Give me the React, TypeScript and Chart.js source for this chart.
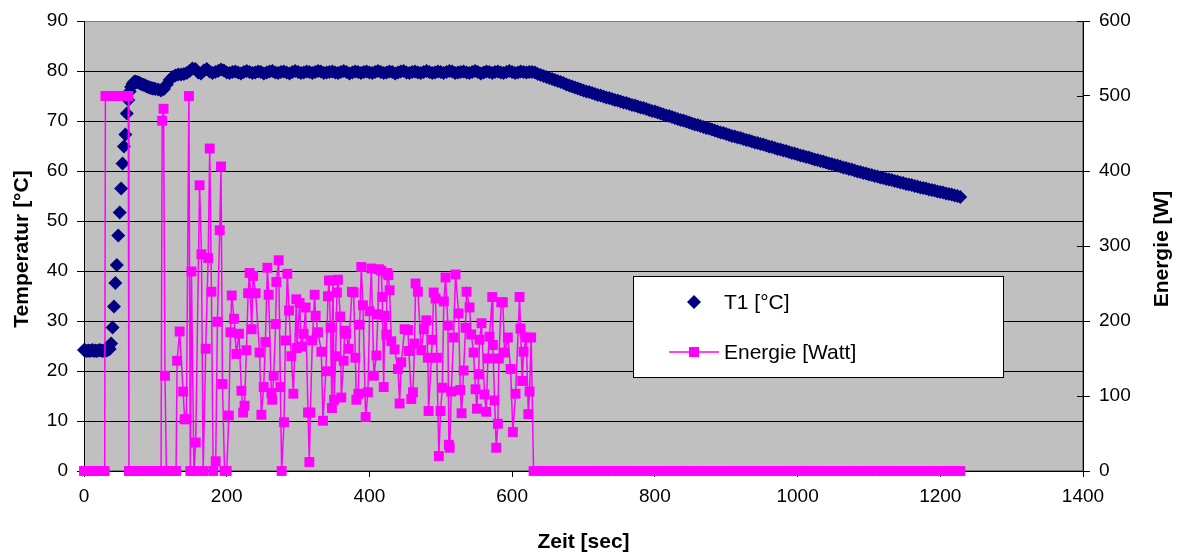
import React, { useEffect, useRef } from "react";
import { Chart, registerables } from "chart.js";

Chart.register(...registerables);

const FONT = '"Liberation Sans", Arial, Helvetica, sans-serif';
const NAVY = "#000080";
const MAGENTA = "#FF00FF";

// ---------- axis ticks ----------
const xTickValues = [0, 200, 400, 600, 800, 1000, 1200, 1400];
const xTickLabels = ["0", "200", "400", "600", "800", "1000", "1200", "1400"];
const tempTickValues = [0, 10, 20, 30, 40, 50, 60, 70, 80, 90];
const tempTickLabels = ["0", "10", "20", "30", "40", "50", "60", "70", "80", "90"];
const energyTickValues = [0, 100, 200, 300, 400, 500, 600];
const energyTickLabels = ["0", "100", "200", "300", "400", "500", "600"];

// ---------- T1 [°C] ----------
// samples every 2 s from t = 0 s to t = 100 s
const t1EarlyStart = 0;
const t1EarlyStep = 2;
const t1Early = [
  24.2, 24.1, 24.0, 24.1, 24.0, 24.1, 24.2, 24.0, 24.1, 24.0,
  24.1, 24.2, 24.1, 24.0, 24.1, 24.2, 24.1, 24.3, 24.4,
  25.5, 28.7, 32.9, 37.6, 41.2, 47.1, 51.7, 56.5, 61.5, 64.9,
  67.3, 71.5, 74.2, 75.9, 76.8, 77.4, 77.8, 77.9, 77.8, 77.7,
  77.6, 77.4, 77.3, 77.2, 77.1, 76.9, 76.8, 76.7, 76.6, 76.5,
  76.5, 76.4,
];
// samples every 4 s from t = 104 s
const t1LateStart = 104;
const t1LateStep = 4;
const t1Settle = [
  76.3, 76.1, 76.4, 77.3, 78.2, 78.8, 79.1, 79.3, 79.3, 79.4,
  79.6, 80.0, 80.5, 80.4, 79.7, 79.5, 80.1, 80.4, 79.9, 79.6,
  79.8, 80.0, 80.3, 80.1, 79.7,
];
const t1Plateau = [
  79.6, 79.8, 79.9, 79.7, 79.5, 79.8, 80.0, 79.8, 79.6, 79.7,
  79.9, 79.8, 79.5, 79.7, 79.9, 80.0, 79.7, 79.6, 79.8, 79.9,
  79.7, 79.5, 79.8, 80.0, 79.8, 79.6, 79.7, 79.9, 79.8, 79.6,
  79.8, 80.0, 79.9, 79.6, 79.7, 79.8, 79.9, 79.7, 79.6, 79.8,
  80.0, 79.8, 79.5, 79.7, 79.9, 79.8, 79.6, 79.8, 79.9, 79.7,
  79.6, 79.8, 80.0, 79.8, 79.6, 79.7, 79.9, 79.8, 79.5, 79.7,
  79.9, 80.0, 79.7, 79.6, 79.8, 79.9, 79.7, 79.6, 79.8, 80.0,
  79.8, 79.6, 79.7, 79.9, 79.8, 79.6, 79.8, 80.0, 79.9, 79.6,
  79.7, 79.8, 79.9, 79.7, 79.6, 79.8, 80.0, 79.8, 79.5, 79.7,
  79.9, 79.8, 79.6, 79.8, 79.9, 79.7, 79.6, 79.8, 80.0, 79.8,
  79.6, 79.7, 79.9, 79.8, 79.7, 79.8, 79.8, 79.7,
];
const t1Cooling = [
  79.4, 79.2, 79.0, 78.8, 78.6, 78.4, 78.2, 78.0, 77.8, 77.6,
  77.3, 77.1, 76.9, 76.7, 76.5, 76.3, 76.1, 75.9, 75.8, 75.6,
  75.4, 75.2, 75.1, 74.9, 74.7, 74.6, 74.4, 74.2, 74.1, 73.9,
  73.7, 73.6, 73.4, 73.2, 73.1, 72.9, 72.7, 72.6, 72.4, 72.2,
  72.0, 71.9, 71.7, 71.5, 71.3, 71.1, 71.0, 70.8, 70.6, 70.4,
  70.2, 70.1, 69.9, 69.7, 69.5, 69.3, 69.2, 69.0, 68.8, 68.6,
  68.5, 68.3, 68.1, 67.9, 67.7, 67.6, 67.4, 67.2, 67.0, 66.9,
  66.7, 66.6, 66.4, 66.2, 66.1, 65.9, 65.7, 65.6, 65.4, 65.3,
  65.1, 64.9, 64.8, 64.6, 64.4, 64.3, 64.1, 64.0, 63.8, 63.6,
  63.5, 63.3, 63.1, 63.0, 62.8, 62.7, 62.5, 62.3, 62.2, 62.0,
  61.9, 61.7, 61.5, 61.4, 61.2, 61.1, 60.9, 60.7, 60.6, 60.4,
  60.3, 60.1, 59.9, 59.8, 59.6, 59.5, 59.3, 59.2, 59.0, 58.9,
  58.7, 58.6, 58.4, 58.3, 58.2, 58.0, 57.9, 57.7, 57.6, 57.4,
  57.3, 57.2, 57.0, 56.9, 56.7, 56.6, 56.5, 56.3, 56.2, 56.1,
  55.9, 55.8, 55.7, 55.5, 55.4, 55.3, 55.1, 55.0, 54.8,
];

// ---------- Energie [Watt] ----------
const energyTime = [
  0, 3, 6, 9, 12, 15, 18, 21, 24, 27, 29,
  30, 33, 36, 39, 42, 45, 48, 51, 54, 57, 60, 62,
  63, 66, 69, 72, 75, 78, 81, 84, 87, 90, 93, 96, 99, 102, 105, 108,
  109.5, 111.5, 113.5, 115.5, 118, 121, 124, 127, 129,
  130.5, 134, 139, 141, 143.5, 147, 149, 150.6, 154, 156.6,
  162, 164.6, 167, 170.6, 174, 176.2, 178.6, 181, 184.6, 187, 190.2, 192, 194, 197, 200,
  203, 205.2, 207, 210.2, 213.6, 217.2, 220.6, 223, 225, 227.6, 230, 232, 235, 237, 240.6,
  246, 248.6, 251.8, 254.2, 257, 258.8, 262.6, 263.8, 265.8, 268.6, 269.6, 272.8, 275.2, 277,
  280.3, 282.2, 285, 287.3, 290.6, 293.4, 297.6, 298.5, 302.2, 304.6, 307.8, 310.6, 313.9, 315.8, 317.2,
  320, 323.2, 324.6, 327.9, 332.6, 334.9, 339, 341.9, 343.3, 345.5, 347.5, 349, 350.5, 352.7, 354.5, 355.9, 359.2, 360.6,
  363.9, 365.3, 367.6, 370.9, 375.5, 377.9, 380.3, 381.7, 384.5, 386.3, 388.6, 390.9, 394.7, 397.9,
  400.3, 402.7, 406.3, 409.7, 411.9, 413.3, 416.6, 418, 420, 421.5, 423.7, 425, 426.5, 428.3, 430.7, 435.3,
  440, 442.3, 444.7, 449.3, 454, 455.3, 458.7, 461, 463.3, 464.7, 467.9, 472.7, 476.3, 479.7, 481.9, 482.9,
  488.1, 490, 492.7, 494.5, 497.3, 499.7, 502.1, 504.3, 506.7, 510, 511.3, 512.5, 514.7, 517.9, 520.7, 525, 527.3, 529.1,
  532, 534.7, 536.1, 540.3, 542.7, 545.9, 548.7, 550.6, 553, 554.3, 557.1, 561.3, 563.7, 566, 568.3, 572.1, 573, 575.4, 577.7,
  580, 581.4, 584.7, 587, 589.4, 594, 597.8, 601, 604.8, 610.4, 611.8, 614.1, 616, 619.7, 622.7, 624.4, 626.7, 630,
  640, 650, 660, 670, 680, 690, 700, 710, 720, 730, 740, 750, 760, 770, 780, 790, 800, 810, 820, 830,
  840, 850, 860, 870, 880, 890, 900, 910, 920, 930, 940, 950, 960, 970, 980, 990, 1000, 1010, 1020, 1030,
  1040, 1050, 1060, 1070, 1080, 1090, 1100, 1110, 1120, 1130, 1140, 1150, 1160, 1170, 1180, 1190, 1200, 1210, 1220, 1228,
];
const energyWatt = [
  0, 0, 0, 0, 0, 0, 0, 0, 0, 0, 0,
  500, 500, 500, 500, 500, 500, 500, 500, 500, 500, 500, 500,
  0, 0, 0, 0, 0, 0, 0, 0, 0, 0, 0, 0, 0, 0, 0, 0,
  467, 483, 127, 0, 0, 0, 0, 0, 0,
  147, 186, 106, 69, 69, 500, 0, 266, 0, 38,
  381, 289, 0, 163, 284, 430, 239, 0, 13, 199, 321, 406, 116, 0, 0,
  74, 185, 234, 203, 156, 183, 107, 78, 87, 161, 237, 264, 189, 260, 237,
  158, 75, 112, 172, 271, 235, 104, 95, 127, 196, 252, 281, 112, 0,
  65, 174, 263, 214, 153, 103, 229, 164, 224, 166, 183, 218, 78, 12, 78,
  174, 235, 207, 185, 159, 67, 133, 233, 254, 191, 84, 254, 95, 153, 238, 255, 206, 98,
  147, 187, 183, 163, 239, 238, 151, 95, 103, 195, 272, 221, 72, 105,
  213, 270, 127, 154, 209, 269, 267, 232, 112, 207, 182, 264, 261, 241, 173, 162,
  136, 90, 145, 189, 188, 160, 96, 105, 170, 250, 239, 161, 189, 201, 151, 80,
  175, 238, 230, 151, 20, 80, 111, 226, 258, 194, 35, 31, 106, 178, 262, 210, 108, 77,
  134, 191, 239, 218, 182, 158, 109, 83, 129, 175, 197, 102, 79, 150, 179, 232, 168, 94, 31,
  63, 150, 225, 225, 158, 178, 136, 52, 103, 232, 190, 120, 159, 178, 76, 106, 178, 0,
  0, 0, 0, 0, 0, 0, 0, 0, 0, 0, 0, 0, 0, 0, 0, 0, 0, 0, 0, 0,
  0, 0, 0, 0, 0, 0, 0, 0, 0, 0, 0, 0, 0, 0, 0, 0, 0, 0, 0, 0,
  0, 0, 0, 0, 0, 0, 0, 0, 0, 0, 0, 0, 0, 0, 0, 0, 0, 0, 0, 0,
];

const seriesT1Label = "T1 [°C]";
const seriesEnergyLabel = "Energie [Watt]";
const xTitle = "Zeit [sec]";
const yTitle = "Temperatur [°C]";
const y1Title = "Energie [W]";

function buildT1Points() {
  const pts: { x: number; y: number }[] = [];
  t1Early.forEach((v, i) => pts.push({ x: t1EarlyStart + i * t1EarlyStep, y: v }));
  const late = [...t1Settle, ...t1Plateau, ...t1Cooling];
  late.forEach((v, i) => pts.push({ x: t1LateStart + i * t1LateStep, y: v }));
  return pts;
}

function buildEnergyPoints() {
  const n = Math.min(energyTime.length, energyWatt.length);
  const pts: { x: number; y: number }[] = [];
  for (let i = 0; i < n; i++) pts.push({ x: energyTime[i], y: energyWatt[i] });
  return pts;
}

const decorPlugin = {
  id: "decor",
  beforeDraw(chart: any) {
    const { ctx, chartArea: a } = chart;
    ctx.save();
    ctx.fillStyle = "#FFFFFF";
    ctx.fillRect(0, 0, chart.width, chart.height);
    ctx.fillStyle = "#C0C0C0";
    ctx.fillRect(a.left, a.top, a.right - a.left, a.bottom - a.top);
    ctx.strokeStyle = "#808080";
    ctx.lineWidth = 1;
    ctx.strokeRect(a.left + 0.5, a.top + 0.5, a.right - a.left - 1, a.bottom - a.top - 1);
    ctx.restore();
  },
  beforeDatasetsDraw(chart: any) {
    const { ctx, chartArea: a } = chart;
    const y1 = chart.scales.y1;
    ctx.save();
    ctx.strokeStyle = "#000";
    ctx.lineWidth = 1;
    energyTickValues.forEach((v) => {
      const y = Math.round(y1.getPixelForValue(v)) + 0.5;
      ctx.beginPath();
      ctx.moveTo(a.right - 6, y);
      ctx.lineTo(a.right, y);
      ctx.stroke();
    });
    ctx.restore();
  },
  afterDraw(chart: any) {
    const { ctx, chartArea: a } = chart;
    ctx.save();
    // axis titles
    ctx.fillStyle = "#000";
    ctx.font = `bold 21px ${FONT}`;
    ctx.textAlign = "center";
    ctx.textBaseline = "middle";
    ctx.fillText(xTitle, (a.left + a.right) / 2, 542);
    const midY = (a.top + a.bottom) / 2 + 3;
    ctx.save();
    ctx.translate(22, midY);
    ctx.rotate(-Math.PI / 2);
    ctx.fillText(yTitle, 0, 0);
    ctx.restore();
    ctx.save();
    ctx.translate(1162, midY);
    ctx.rotate(-Math.PI / 2);
    ctx.fillText(y1Title, 0, 0);
    ctx.restore();

    // legend
    const lx = 633, ly = 276, lw = 370, lh = 101;
    ctx.fillStyle = "#FFFFFF";
    ctx.fillRect(lx, ly, lw, lh);
    ctx.strokeStyle = "#000";
    ctx.lineWidth = 1;
    ctx.strokeRect(lx + 0.5, ly + 0.5, lw, lh);

    const mx = 694;
    const r1 = 302;
    const r2 = 352;
    ctx.fillStyle = NAVY;
    ctx.beginPath();
    ctx.moveTo(mx - 7, r1);
    ctx.lineTo(mx, r1 - 7);
    ctx.lineTo(mx + 7, r1);
    ctx.lineTo(mx, r1 + 7);
    ctx.closePath();
    ctx.fill();

    ctx.strokeStyle = MAGENTA;
    ctx.lineWidth = 1.5;
    ctx.beginPath();
    ctx.moveTo(669, r2);
    ctx.lineTo(719, r2);
    ctx.stroke();
    ctx.fillStyle = MAGENTA;
    ctx.fillRect(mx - 5, r2 - 5, 10, 10);

    ctx.fillStyle = "#000";
    ctx.font = `21px ${FONT}`;
    ctx.textAlign = "left";
    ctx.textBaseline = "middle";
    ctx.fillText(seriesT1Label, 724, r1 + 1);
    ctx.fillText(seriesEnergyLabel, 724, r2 + 1);
    ctx.restore();
  },
};

export default function App() {
  const ref = useRef<HTMLCanvasElement | null>(null);

  useEffect(() => {
    const canvas = ref.current;
    if (!canvas) return;
    Chart.defaults.font.family = FONT;
    Chart.defaults.color = "#000";

    const tickFont = { family: FONT, size: 19 };

    const chart = new Chart(canvas, {
      type: "scatter",
      data: {
        datasets: [
          {
            label: seriesEnergyLabel,
            data: buildEnergyPoints(),
            yAxisID: "y1",
            xAxisID: "x",
            showLine: true,
            borderColor: MAGENTA,
            borderWidth: 1.5,
            pointStyle: "rect",
            pointRadius: 7,
            pointBackgroundColor: MAGENTA,
            pointBorderColor: MAGENTA,
            pointBorderWidth: 0,
            tension: 0,
            order: 0,
            clip: false,
          } as any,
          {
            label: seriesT1Label,
            data: buildT1Points(),
            yAxisID: "y",
            xAxisID: "x",
            showLine: false,
            pointStyle: "rectRot",
            pointRadius: 7,
            pointBackgroundColor: NAVY,
            pointBorderColor: NAVY,
            pointBorderWidth: 0,
            order: 1,
            clip: false,
          } as any,
        ],
      },
      options: {
        animation: false,
        responsive: false,
        devicePixelRatio: 1,
        events: [],
        layout: { padding: { top: 21, left: 0, right: 0, bottom: 0 } },
        plugins: {
          legend: { display: false },
          tooltip: { enabled: false },
          title: { display: false },
        },
        scales: {
          x: {
            type: "linear",
            position: "bottom",
            min: 0,
            max: 1400,
            afterBuildTicks: (s: any) => {
              s.ticks = xTickValues.map((v) => ({ value: v }));
            },
            afterFit: (s: any) => {
              s.height = 84;
            },
            ticks: {
              font: tickFont,
              color: "#000",
              padding: 8,
              maxRotation: 0,
              autoSkip: false,
              callback: (v: any) => {
                const i = xTickValues.indexOf(Number(v));
                return i >= 0 ? xTickLabels[i] : "";
              },
            },
            grid: {
              drawOnChartArea: false,
              drawTicks: true,
              tickLength: 6,
              tickColor: "#000",
            },
            border: { display: true, color: "#000", width: 1 },
            title: { display: false },
          },
          y: {
            type: "linear",
            position: "left",
            min: 0,
            max: 90,
            afterBuildTicks: (s: any) => {
              s.ticks = tempTickValues.map((v) => ({ value: v }));
            },
            afterFit: (s: any) => {
              s.width = 84;
            },
            ticks: {
              font: tickFont,
              color: "#000",
              padding: 9,
              autoSkip: false,
              callback: (v: any) => {
                const i = tempTickValues.indexOf(Number(v));
                return i >= 0 ? tempTickLabels[i] : "";
              },
            },
            grid: {
              drawOnChartArea: true,
              drawTicks: true,
              tickLength: 7,
              tickColor: "#000",
              color: (c: any) => (c.tick && c.tick.value === 90 ? "#808080" : "#000"),
              lineWidth: 1,
            },
            border: { display: true, color: "#000", width: 1 },
            title: { display: false },
          },
          y1: {
            type: "linear",
            position: "right",
            min: 0,
            max: 600,
            afterBuildTicks: (s: any) => {
              s.ticks = energyTickValues.map((v) => ({ value: v }));
            },
            afterFit: (s: any) => {
              s.width = 94;
            },
            ticks: {
              font: tickFont,
              color: "#000",
              padding: 9,
              autoSkip: false,
              callback: (v: any) => {
                const i = energyTickValues.indexOf(Number(v));
                return i >= 0 ? energyTickLabels[i] : "";
              },
            },
            grid: {
              drawOnChartArea: false,
              drawTicks: true,
              tickLength: 7,
              tickColor: "#000",
            },
            border: { display: true, color: "#000", width: 1 },
            title: { display: false },
          },
        },
      } as any,
      plugins: [decorPlugin],
    });

    return () => chart.destroy();
  }, []);

  return (
    <div
      style={{
        position: "fixed",
        left: 0,
        top: 0,
        width: 1177,
        height: 555,
        background: "#fff",
      }}
    >
      <canvas ref={ref} width={1177} height={555} style={{ display: "block" }} />
    </div>
  );
}
